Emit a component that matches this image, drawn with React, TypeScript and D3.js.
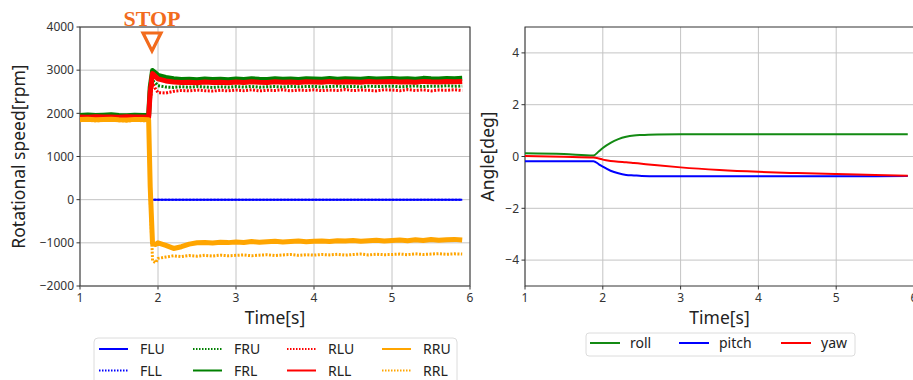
import * as d3 from "d3";

// shared time base for the motor speed traces [s]
const TIME = [
  1.0, 1.1, 1.2, 1.3, 1.4, 1.5, 1.6, 1.7, 1.8, 1.88, 1.9, 1.93, 1.97,
  2.0, 2.1, 2.2, 2.3, 2.4, 2.5, 2.6, 2.7, 2.8, 2.9,
  3.0, 3.1, 3.2, 3.3, 3.4, 3.5, 3.6, 3.7, 3.8, 3.9,
  4.0, 4.1, 4.2, 4.3, 4.4, 4.5, 4.6, 4.7, 4.8, 4.9,
  5.0, 5.1, 5.2, 5.3, 5.4, 5.5, 5.6, 5.7, 5.8, 5.9,
];

const FLU = [
  1895, 1900, 1893, 1898, 1904, 1896, 1892, 1900, 1896, 1890, 0, 0, 0,
  0, 0, 0, 0, 0, 0, 0, 0, 0, 0,
  0, 0, 0, 0, 0, 0, 0, 0, 0, 0,
  0, 0, 0, 0, 0, 0, 0, 0, 0, 0,
  0, 0, 0, 0, 0, 0, 0, 0, 0, 0,
];
const FLL = [
  1890, 1896, 1888, 1894, 1900, 1892, 1888, 1896, 1892, 1886, 0, 0, 0,
  0, 0, 0, 0, 0, 0, 0, 0, 0, 0,
  0, 0, 0, 0, 0, 0, 0, 0, 0, 0,
  0, 0, 0, 0, 0, 0, 0, 0, 0, 0,
  0, 0, 0, 0, 0, 0, 0, 0, 0, 0,
];
const FRU = [
  1940, 1948, 1935, 1944, 1950, 1938, 1934, 1946, 1940, 1938, 2400, 2760, 2700,
  2640, 2610, 2600, 2615, 2605, 2620, 2610, 2600, 2615, 2605,
  2620, 2610, 2625, 2605, 2615, 2620, 2610, 2625, 2615, 2620,
  2625, 2610, 2620, 2630, 2615, 2625, 2610, 2630, 2620, 2625,
  2630, 2615, 2625, 2635, 2620, 2630, 2625, 2640, 2625, 2635,
];
const FRL = [
  1950, 1962, 1948, 1958, 1966, 1952, 1946, 1956, 1950, 1948, 2600, 2990, 2930,
  2880, 2830, 2800, 2785, 2790, 2780, 2795, 2785, 2790, 2780,
  2795, 2785, 2800, 2790, 2785, 2800, 2790, 2795, 2785, 2800,
  2795, 2790, 2805, 2790, 2800, 2795, 2790, 2805, 2795, 2800,
  2805, 2795, 2800, 2790, 2810, 2800, 2795, 2805, 2800, 2810,
];
const RLU = [
  1905, 1900, 1910, 1903, 1907, 1901, 1909, 1905, 1903, 1900, 2300, 2700, 2560,
  2480, 2470, 2510, 2530, 2520, 2540, 2525, 2515, 2535, 2520,
  2540, 2525, 2545, 2520, 2535, 2530, 2545, 2520, 2540, 2530,
  2545, 2525, 2540, 2530, 2550, 2525, 2540, 2535, 2520, 2545,
  2540, 2525, 2550, 2530, 2545, 2520, 2540, 2535, 2545, 2530,
];
const RLL = [
  1915, 1910, 1920, 1913, 1917, 1911, 1919, 1915, 1913, 1908, 2500, 2920, 2850,
  2800, 2750, 2725, 2715, 2720, 2710, 2725, 2715, 2720, 2710,
  2725, 2715, 2730, 2720, 2715, 2730, 2720, 2725, 2715, 2730,
  2725, 2720, 2735, 2720, 2730, 2725, 2720, 2735, 2725, 2730,
  2735, 2725, 2730, 2720, 2740, 2730, 2725, 2735, 2730, 2740,
];
const RRU = [
  1855, 1862, 1850, 1858, 1864, 1852, 1848, 1860, 1855, 1850, 300, -1020, -1040,
  -1000, -1060, -1130, -1090, -1030, -1000, -990, -1005, -985, -995,
  -980, -990, -970, -985, -975, -965, -980, -970, -960, -975,
  -965, -955, -970, -950, -960, -945, -965, -950, -940, -955,
  -945, -935, -950, -930, -945, -925, -940, -930, -920, -935,
];
const RRL = [
  1830, 1838, 1826, 1834, 1840, 1828, 1824, 1836, 1830, 1826, 0, -1420, -1460,
  -1360, -1330, -1300, -1320, -1295, -1310, -1290, -1305, -1285, -1300,
  -1290, -1280, -1300, -1285, -1275, -1295, -1280, -1270, -1290, -1275,
  -1285, -1270, -1280, -1265, -1285, -1270, -1260, -1280, -1265, -1275,
  -1270, -1260, -1275, -1255, -1270, -1260, -1250, -1265, -1255, -1260,
];

// attitude traces [deg]
const ANGLE_TIME = [1.0, 1.5, 1.88, 1.95, 2.0, 2.1, 2.2, 2.3, 2.4, 2.5, 2.7, 3.0, 3.5, 4.0, 4.5, 5.0, 5.5, 5.92];
const ROLL = [0.13, 0.1, 0.04, 0.2, 0.33, 0.53, 0.67, 0.76, 0.81, 0.83, 0.85, 0.86, 0.86, 0.86, 0.86, 0.86, 0.86, 0.86];
const PITCH = [-0.18, -0.18, -0.18, -0.3, -0.39, -0.55, -0.65, -0.71, -0.73, -0.75, -0.76, -0.76, -0.76, -0.76, -0.76, -0.76, -0.76, -0.75];
const YAW = [0.02, -0.01, -0.04, -0.08, -0.12, -0.17, -0.2, -0.22, -0.25, -0.28, -0.34, -0.42, -0.52, -0.59, -0.64, -0.68, -0.71, -0.74];

const X_TICKS = [1, 2, 3, 4, 5, 6];
const RPM_TICKS = [-2000, -1000, 0, 1000, 2000, 3000, 4000];
const ANGLE_TICKS = [-4, -2, 0, 2, 4];

const speedSeries = [
  { name: "FLU", values: FLU, color: "#0000ff", dash: false },
  { name: "FLL", values: FLL, color: "#0000ff", dash: true },
  { name: "FRU", values: FRU, color: "#008000", dash: true },
  { name: "FRL", values: FRL, color: "#008000", dash: false },
  { name: "RLU", values: RLU, color: "#ff0000", dash: true },
  { name: "RLL", values: RLL, color: "#ff0000", dash: false },
  { name: "RRU", values: RRU, color: "#ffa500", dash: false },
  { name: "RRL", values: RRL, color: "#ffa500", dash: true },
];
const angleSeries = [
  { name: "roll", values: ROLL, color: "#138a13" },
  { name: "pitch", values: PITCH, color: "#0000ff" },
  { name: "yaw", values: YAW, color: "#ff0000" },
];

const FONT = "Noto Sans, Open Sans, sans-serif";
const GRID = "#c4c4c4";
const SPINE = "#333";
const TOP = 27;
const BOTTOM = 286;

const fmt = (v: number) => String(v).replace("-", "\u2212");

function Frame({ x, y, xTicks, yTicks, xLabel, yLabel, labelX }: any) {
  const [x0, x1] = x.range();
  return (
    <g fontFamily={FONT}>
      {xTicks.map((t: number) => (
        <g key={"x" + t}>
          <line x1={x(t)} x2={x(t)} y1={TOP} y2={BOTTOM} stroke={GRID} strokeWidth={1} />
          <line x1={x(t)} x2={x(t)} y1={BOTTOM} y2={BOTTOM + 3.5} stroke={SPINE} />
          <text x={x(t)} y={302} fontSize={12} textAnchor="middle" fill="#333">{fmt(t)}</text>
        </g>
      ))}
      {yTicks.map((t: number) => (
        <g key={"y" + t}>
          <line x1={x0} x2={x1} y1={y(t)} y2={y(t)} stroke={GRID} strokeWidth={1} />
          <line x1={x0 - 3.5} x2={x0} y1={y(t)} y2={y(t)} stroke={SPINE} />
          <text x={x0 - 6} y={y(t)} dy="0.35em" fontSize={12} textAnchor="end" fill="#333">{fmt(t)}</text>
        </g>
      ))}
      <rect x={x0} y={TOP} width={x1 - x0} height={BOTTOM - TOP} fill="none" stroke={SPINE} strokeWidth={1} />
      <text x={(x0 + x1) / 2} y={324} fontSize={17.5} textAnchor="middle" fill="#222">{xLabel}</text>
      <text transform={`translate(${labelX},${(TOP + BOTTOM) / 2}) rotate(-90)`} fontSize={17.5} textAnchor="middle" fill="#222">{yLabel}</text>
    </g>
  );
}

export default function App() {
  const xL = d3.scaleLinear().domain([1, 6]).range([80, 470]);
  const yL = d3.scaleLinear().domain([-2000, 4000]).range([BOTTOM, TOP]);
  const xR = d3.scaleLinear().domain([1, 6]).range([525, 914]);
  const yR = d3.scaleLinear().domain([-5, 5]).range([BOTTOM, TOP]);

  const speedLine = d3.line<number>().x((_, i) => xL(TIME[i])).y((d) => yL(d));
  const angleLine = d3
    .line<number>()
    .x((_, i) => xR(ANGLE_TIME[i]))
    .y((d) => yR(d))
    .curve(d3.curveMonotoneX);

  const legendCols = [99, 193, 287, 382];

  return (
    <svg width={913} height={380} style={{ position: "absolute", left: 0, top: 0 }}>
      <rect width={913} height={380} fill="white" />
      <Frame x={xL} y={yL} xTicks={X_TICKS} yTicks={RPM_TICKS} xLabel="Time[s]" yLabel="Rotational speed[rpm]" labelX={25} />
      <Frame x={xR} y={yR} xTicks={X_TICKS} yTicks={ANGLE_TICKS} xLabel="Time[s]" yLabel="Angle[deg]" labelX={494} />

      <g>
        {speedSeries.map((s) => (
          <path
            key={s.name}
            d={speedLine(s.values) ?? ""}
            fill="none"
            stroke={s.color}
            strokeWidth={s.dash ? (s.name === "FLL" ? 2 : 3) : s.name === "FLU" ? 2 : 5}
            strokeDasharray={s.dash ? "2,1.5" : undefined}
            strokeLinejoin="round"
          />
        ))}
      </g>
      <g>
        {angleSeries.map((s) => (
          <path key={s.name} d={angleLine(s.values) ?? ""} fill="none" stroke={s.color} strokeWidth={2} />
        ))}
      </g>

      {/* STOP marker */}
      <text x={152} y={26} fontFamily="Liberation Serif, serif" fontWeight="bold" fontSize={22} fill="#f26b1d" textAnchor="middle">STOP</text>
      <path d="M143,33 L161,33 L152,51 Z" fill="none" stroke="#f26b1d" strokeWidth={3.2} strokeLinejoin="miter" />

      {/* speed legend */}
      <rect x={94} y={338} width={363} height={46} rx={4} fill="white" stroke="#dcdcdc" />
      {speedSeries.map((s, i) => {
        const col = Math.floor(i / 2);
        const row = i % 2;
        const lx = legendCols[col];
        const ly = row === 0 ? 349 : 370.5;
        return (
          <g key={s.name}>
            <line x1={lx} x2={lx + 29} y1={ly} y2={ly} stroke={s.color} strokeWidth={s.dash ? 1.8 : 2}
              strokeDasharray={s.dash ? "1.5,1.5" : undefined} />
            <text x={lx + 41} y={ly} dy="0.36em" fontFamily={FONT} fontSize={14} fill="#222">{s.name}</text>
          </g>
        );
      })}

      {/* angle legend */}
      <rect x={586} y={333} width={269} height={23} rx={3} fill="white" stroke="#dcdcdc" />
      {angleSeries.map((s, i) => {
        const lx = [590, 679, 781][i];
        return (
          <g key={s.name}>
            <line x1={lx} x2={lx + 30} y1={343} y2={343} stroke={s.color} strokeWidth={2} />
            <text x={lx + 40} y={343} dy="0.36em" fontFamily={FONT} fontSize={14} fill="#222">{s.name}</text>
          </g>
        );
      })}
    </svg>
  );
}
